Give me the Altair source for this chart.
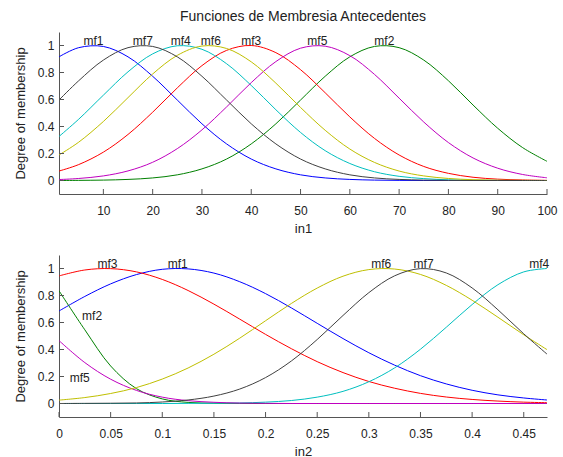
import altair as alt
import pandas as pd

FONT = "Liberation Sans"
INK = "#222222"
AXIS_INK = "#555555"

mf_names = ["mf1", "mf2", "mf3", "mf4", "mf5", "mf6", "mf7"]
mf_colors = ["#0000ff", "#008000", "#ff0000", "#00bfbf", "#bf00bf", "#bfbf00", "#404040"]

# ---- input 1: universe [1, 100] ----
in1_x = [1, 5, 10, 15, 20, 25, 30, 35, 40, 45, 50, 55, 60, 65, 70, 75, 80, 85, 90, 95, 100]
in1_mf1 = [0.916, 0.984, 0.993, 0.916, 0.772, 0.596, 0.420, 0.271, 0.159, 0.086, 0.042,
           0.019, 0.008, 0.003, 0.001, 0.000, 0.000, 0.000, 0.000, 0.000, 0.000]
in1_mf2 = [0.000, 0.001, 0.003, 0.008, 0.019, 0.042, 0.086, 0.159, 0.271, 0.420, 0.596,
           0.772, 0.916, 0.993, 0.984, 0.892, 0.739, 0.559, 0.387, 0.245, 0.142]
in1_mf3 = [0.070, 0.118, 0.210, 0.341, 0.506, 0.686, 0.851, 0.964, 1.000, 0.947, 0.821,
           0.650, 0.471, 0.312, 0.189, 0.104, 0.053, 0.024, 0.010, 0.004, 0.001]
in1_mf4 = [0.326, 0.454, 0.632, 0.805, 0.938, 0.998, 0.972, 0.865, 0.704, 0.524, 0.356,
           0.221, 0.126, 0.065, 0.031, 0.014, 0.005, 0.002, 0.001, 0.000, 0.000]
in1_mf5 = [0.007, 0.015, 0.034, 0.071, 0.135, 0.236, 0.375, 0.545, 0.725, 0.881, 0.980,
           0.995, 0.925, 0.786, 0.610, 0.433, 0.281, 0.167, 0.091, 0.045, 0.020]
in1_mf6 = [0.189, 0.284, 0.437, 0.614, 0.789, 0.927, 0.996, 0.978, 0.879, 0.721, 0.541,
           0.372, 0.233, 0.134, 0.070, 0.034, 0.015, 0.006, 0.002, 0.001, 0.000]
in1_mf7 = [0.596, 0.739, 0.892, 0.984, 0.993, 0.916, 0.772, 0.596, 0.420, 0.271, 0.159,
           0.086, 0.042, 0.019, 0.008, 0.003, 0.001, 0.000, 0.000, 0.000, 0.000]
in1_label_x = [8, 67, 40, 25.7, 53.4, 31.8, 18]
in1_label_y = [1.0, 1.0, 1.0, 1.0, 1.0, 1.0, 1.0]
in1_ticks = [10, 20, 30, 40, 50, 60, 70, 80, 90, 100]

# ---- input 2: universe [0, 0.4725] ----
in2_x = [0, 0.025, 0.05, 0.075, 0.1, 0.125, 0.15, 0.175, 0.2, 0.225, 0.25, 0.275,
         0.3, 0.325, 0.35, 0.375, 0.4, 0.425, 0.45, 0.4725]
in2_mf1 = [0.685, 0.793, 0.886, 0.955, 0.994, 0.997, 0.966, 0.902, 0.814, 0.708, 0.594,
           0.481, 0.376, 0.284, 0.206, 0.145, 0.098, 0.064, 0.041, 0.026]
in2_mf2 = [0.835, 0.546, 0.278, 0.110, 0.034, 0.008, 0.002, 0.000, 0.000, 0.000, 0.000,
           0.000, 0.000, 0.000, 0.000, 0.000, 0.000, 0.000, 0.000, 0.000]
in2_mf3 = [0.945, 0.989, 0.999, 0.975, 0.919, 0.837, 0.736, 0.625, 0.512, 0.406, 0.310,
           0.229, 0.163, 0.113, 0.075, 0.048, 0.030, 0.018, 0.010, 0.006]
in2_mf4 = [0.000, 0.000, 0.000, 0.000, 0.000, 0.001, 0.002, 0.004, 0.010, 0.022, 0.047,
           0.090, 0.161, 0.264, 0.402, 0.565, 0.733, 0.880, 0.975, 1.000]
in2_mf5 = [0.466, 0.303, 0.180, 0.097, 0.047, 0.021, 0.009, 0.003, 0.001, 0.000, 0.000,
           0.000, 0.000, 0.000, 0.000, 0.000, 0.000, 0.000, 0.000, 0.000]
in2_mf6 = [0.025, 0.044, 0.074, 0.118, 0.181, 0.263, 0.365, 0.484, 0.613, 0.741, 0.855,
           0.943, 0.992, 0.996, 0.956, 0.875, 0.765, 0.639, 0.509, 0.399]
in2_mf7 = [0.000, 0.001, 0.002, 0.004, 0.011, 0.026, 0.055, 0.107, 0.192, 0.315, 0.474,
           0.652, 0.821, 0.946, 0.999, 0.967, 0.856, 0.694, 0.516, 0.366]
in2_label_x = [0.115, 0.032, 0.047, 0.465, 0.02, 0.312, 0.353]
in2_label_y = [1.0, 0.61, 1.0, 1.0, 0.155, 1.0, 1.0]
in2_ticks = [0, 0.05, 0.1, 0.15, 0.2, 0.25, 0.3, 0.35, 0.4, 0.45]

y_ticks = [0, 0.2, 0.4, 0.6, 0.8, 1]
W, H = 488, 162
TICK_LEN = 5


def long_table(xs, series):
    rows = []
    for name, ys in zip(mf_names, series):
        for i, (x, y) in enumerate(zip(xs, ys)):
            rows.append({"x": x, "y": y, "mf": name, "order": i})
    return pd.DataFrame(rows)


def panel(xs, series, lab_x, lab_y, xdomain, xticks, xtitle, xfmt):
    x_enc = lambda: alt.X("x:Q", scale=alt.Scale(domain=xdomain, nice=False, zero=False),
                          axis=alt.Axis(values=xticks, format=xfmt, title=xtitle, labelFlush=False))
    y_enc = lambda: alt.Y("y:Q", scale=alt.Scale(domain=[-0.1, 1.1], nice=False, zero=False),
                          axis=alt.Axis(values=y_ticks, format="~g", title="Degree of membership",
                                        labelFlush=False))
    color = alt.Color("mf:N", scale=alt.Scale(domain=mf_names, range=mf_colors), legend=None)

    curves = alt.Chart(long_table(xs, series)).mark_line(
        strokeWidth=1, interpolate="catmull-rom", clip=True
    ).encode(x=x_enc(), y=y_enc(), color=color, order="order:Q")

    labels = alt.Chart(pd.DataFrame({"x": lab_x, "y": lab_y, "mf": mf_names})).mark_text(
        font=FONT, fontSize=12, color=INK, baseline="alphabetic", align="center", dy=-1
    ).encode(x=x_enc(), y=y_enc(), text="mf:N")

    # inward-pointing tick marks on both axes
    xt = alt.Chart(pd.DataFrame({"x": xticks})).mark_rule(color=AXIS_INK, strokeWidth=1).encode(
        x=x_enc(), y=alt.value(H), y2=alt.value(H - TICK_LEN))
    yt = alt.Chart(pd.DataFrame({"y": y_ticks})).mark_rule(color=AXIS_INK, strokeWidth=1).encode(
        y=y_enc(), x=alt.value(0), x2=alt.value(TICK_LEN))

    return alt.layer(curves, xt, yt, labels).properties(width=W, height=H)


top = panel(in1_x, [in1_mf1, in1_mf2, in1_mf3, in1_mf4, in1_mf5, in1_mf6, in1_mf7],
            in1_label_x, in1_label_y, [1, 100], in1_ticks, "in1", "d").properties(
    title=alt.TitleParams("Funciones de Membresia Antecedentes", anchor="middle", frame="group",
                          font=FONT, fontSize=14, fontWeight="normal", color=INK, offset=8))

bottom = panel(in2_x, [in2_mf1, in2_mf2, in2_mf3, in2_mf4, in2_mf5, in2_mf6, in2_mf7],
               in2_label_x, in2_label_y, [0, 0.4725], in2_ticks, "in2", "~g")

chart = alt.vconcat(top, bottom, spacing=20).properties(
    padding={"left": 14, "top": 10, "right": 0, "bottom": 0}
).configure_view(stroke=None).configure_axis(
    labelFont=FONT, labelFontSize=12, labelColor=INK,
    titleFont=FONT, titleFontSize=13, titleFontWeight="normal", titleColor=INK,
    domainColor=AXIS_INK, ticks=False, grid=False
).configure_axisX(labelPadding=11, titlePadding=6).configure_axisY(labelPadding=5, titlePadding=10)

chart.save("out.html", embed_options={"renderer": "svg", "actions": False})
